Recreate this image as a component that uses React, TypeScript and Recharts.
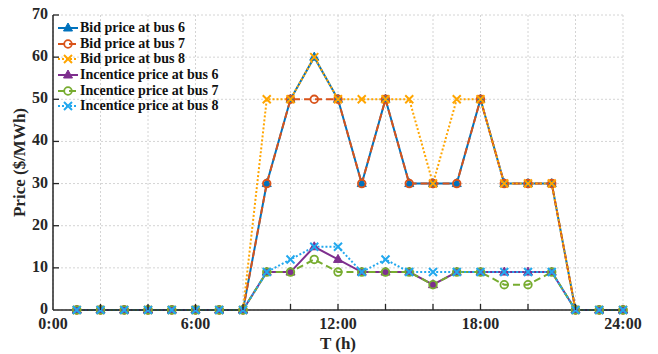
import { CartesianGrid, Line, LineChart, XAxis, YAxis } from "recharts";

const hours = [1, 2, 3, 4, 5, 6, 7, 8, 9, 10, 11, 12, 13, 14, 15, 16, 17, 18, 19, 20, 21, 22, 23, 24];
const bidBus6 = [0, 0, 0, 0, 0, 0, 0, 0, 30, 50, 60, 50, 30, 50, 30, 30, 30, 50, 30, 30, 30, 0, 0, 0];
const bidBus7 = [0, 0, 0, 0, 0, 0, 0, 0, 30, 50, 50, 50, 30, 50, 30, 30, 30, 50, 30, 30, 30, 0, 0, 0];
const bidBus8 = [0, 0, 0, 0, 0, 0, 0, 0, 50, 50, 60, 50, 50, 50, 50, 30, 50, 50, 30, 30, 30, 0, 0, 0];
const incBus6 = [0, 0, 0, 0, 0, 0, 0, 0, 9, 9, 15, 12, 9, 9, 9, 6, 9, 9, 9, 9, 9, 0, 0, 0];
const incBus7 = [0, 0, 0, 0, 0, 0, 0, 0, 9, 9, 12, 9, 9, 9, 9, 6, 9, 9, 6, 6, 9, 0, 0, 0];
const incBus8 = [0, 0, 0, 0, 0, 0, 0, 0, 9, 12, 15, 15, 9, 12, 9, 9, 9, 9, 9, 9, 9, 0, 0, 0];

const xTicks = [0, 2, 4, 6, 8, 10, 12, 14, 16, 18, 20, 22, 24];
const yTicks = [0, 10, 20, 30, 40, 50, 60, 70];

const data = hours.map((t, i) => ({
  t,
  bid6: bidBus6[i],
  bid7: bidBus7[i],
  bid8: bidBus8[i],
  inc6: incBus6[i],
  inc7: incBus7[i],
  inc8: incBus8[i],
}));

const FONT = "'Liberation Serif', 'Times New Roman', serif";

type Marker = "triangle" | "circle" | "cross";

const series: { key: string; name: string; color: string; dash?: string; marker: Marker }[] = [
  { key: "bid6", name: "Bid price at bus 6", color: "#0072BD", marker: "triangle" },
  { key: "bid7", name: "Bid price at bus 7", color: "#D95319", dash: "7 4", marker: "circle" },
  { key: "bid8", name: "Bid price at bus 8", color: "#FFA500", dash: "2 2", marker: "cross" },
  { key: "inc6", name: "Incentice price at bus 6", color: "#7E2F8E", marker: "triangle" },
  { key: "inc7", name: "Incentice price at bus 7", color: "#77AC30", dash: "7 4", marker: "circle" },
  { key: "inc8", name: "Incentice price at bus 8", color: "#22A8EE", dash: "2 2", marker: "cross" },
];

function MarkerShape({ x, y, type, color }: { x: number; y: number; type: Marker; color: string }) {
  if (type === "triangle") {
    return <path d={`M${x},${y - 5} L${x + 4.5},${y + 3} L${x - 4.5},${y + 3} Z`} fill={color} stroke={color} strokeWidth={1} />;
  }
  if (type === "circle") {
    return <circle cx={x} cy={y} r={3.8} fill="none" stroke={color} strokeWidth={1.8} />;
  }
  return (
    <path d={`M${x - 4},${y - 4} L${x + 4},${y + 4} M${x - 4},${y + 4} L${x + 4},${y - 4}`} stroke={color} strokeWidth={2} />
  );
}

function makeDot(type: Marker, color: string) {
  return (props: any) => {
    const { cx, cy, index } = props;
    if (cx == null || cy == null) return <g key={index} />;
    return (
      <g key={index}>
        <MarkerShape x={cx} y={cy} type={type} color={color} />
      </g>
    );
  };
}

function XTick(props: any) {
  const { x, y, payload } = props;
  const v = payload.value as number;
  return (
    <g>
      {v > 0 && v < 24 && <line x1={x} x2={x} y1={y} y2={y - 6} stroke="#262626" strokeWidth={1.3} />}
      {v % 6 === 0 && (
        <text x={x} y={y + 19} textAnchor="middle" fontFamily={FONT} fontWeight="bold" fontSize={16} fill="#262626">
          {`${v}:00`}
        </text>
      )}
    </g>
  );
}

function YTick(props: any) {
  const { x, y, payload } = props;
  const v = payload.value as number;
  return (
    <g>
      {v > 0 && <line x1={x + 5} x2={x + 11} y1={y} y2={y} stroke="#262626" strokeWidth={1.3} />}
      <text x={x} y={y + 4} textAnchor="end" fontFamily={FONT} fontWeight="bold" fontSize={16} fill="#262626">
        {v}
      </text>
    </g>
  );
}

function LegendBox() {
  return (
    <div
      style={{
        position: "absolute",
        left: 57,
        top: 20,
        fontFamily: FONT,
        fontWeight: "bold",
        fontSize: 14,
        color: "#111",
        lineHeight: "15.7px",
      }}
    >
      {series.map((s) => (
        <div key={s.key} style={{ display: "flex", alignItems: "center", height: 15.7 }}>
          <svg width={22} height={14} style={{ marginRight: 1 }}>
            <line x1={1} x2={21} y1={7} y2={7} stroke={s.color} strokeWidth={2} strokeDasharray={s.dash} />
            <MarkerShape x={11} y={7} type={s.marker} color={s.color} />
          </svg>
          <span>{s.name}</span>
        </div>
      ))}
    </div>
  );
}

export default function App() {
  return (
    <div style={{ position: "absolute", left: 0, top: 0, width: 658, height: 354, background: "#fff" }}>
      <LineChart width={658} height={354} data={data} margin={{ top: 15, right: 35, bottom: 0, left: 13 }}>
        <CartesianGrid stroke="#d4d4d4" strokeDasharray="2 2" strokeWidth={1} />
        <XAxis
          dataKey="t"
          type="number"
          domain={[0, 24]}
          ticks={xTicks}
          interval={0}
          height={44}
          tickSize={0}
          tickMargin={0}
          tickLine={false}
          tick={<XTick />}
          axisLine={{ stroke: "#262626", strokeWidth: 1.5 }}
          label={{
            value: "T (h)",
            position: "insideBottom",
            offset: 5,
            style: { fontFamily: FONT, fontWeight: "bold", fontSize: 17, fill: "#262626" },
          }}
        />
        <YAxis
          type="number"
          domain={[0, 70]}
          ticks={yTicks}
          interval={0}
          width={40}
          tickSize={0}
          tickMargin={5}
          tickLine={false}
          tick={<YTick />}
          axisLine={{ stroke: "#262626", strokeWidth: 1.5 }}
          label={{
            value: "Price ($/MWh)",
            angle: -90,
            position: "insideLeft",
            offset: 6,
            style: { fontFamily: FONT, fontWeight: "bold", fontSize: 17, fill: "#262626", textAnchor: "middle" },
          }}
        />
        {series.map((s) => (
          <Line
            key={s.key}
            dataKey={s.key}
            name={s.name}
            type="linear"
            stroke={s.color}
            strokeWidth={2}
            strokeDasharray={s.dash}
            dot={makeDot(s.marker, s.color)}
            activeDot={false}
            isAnimationActive={false}
          />
        ))}
      </LineChart>
      <LegendBox />
    </div>
  );
}
